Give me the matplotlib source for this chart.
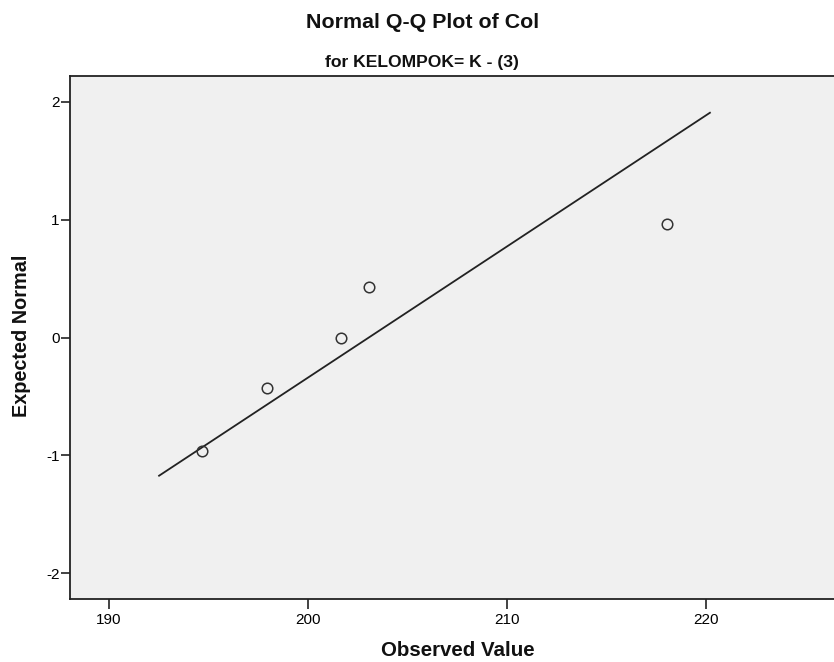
import numpy as np
import matplotlib
matplotlib.use("Agg")
import matplotlib.pyplot as plt

# Data
observed = [194.66, 197.92, 201.64, 203.07, 218.03]
expected_normal = [-0.967, -0.431, 0.0, 0.431, 0.967]
line_x_range = [192.48, 220.25]
x_ticks = [190, 200, 210, 220]
y_ticks = [-2, -1, 0, 1, 2]

title = "Normal Q-Q Plot of Col"
subtitle = "for KELOMPOK= K - (3)"
xlabel = "Observed Value"
ylabel = "Expected Normal"

FONT = ["Liberation Sans", "DejaVu Sans"]
plt.rcParams["font.family"] = FONT

W, H = 834, 662
fig = plt.figure(figsize=(W / 100, H / 100), dpi=100)
fig.patch.set_facecolor("white")

left, right, top, bottom = 70, 834, 76, 599
ax = fig.add_axes([left / W, 1 - bottom / H, (right - left) / W, (bottom - top) / H])
ax.set_facecolor("#f0f0f0")

# fitted normal reference line
obs = np.array(observed)
mu, sd = obs.mean(), obs.std(ddof=1)
lx = np.array(line_x_range)
ax.plot(lx, (lx - mu) / sd, color="#222222", lw=1.3, solid_capstyle="butt", zorder=2)

ax.plot(observed, expected_normal, linestyle="none", marker="o", markersize=7.6,
        markerfacecolor="none", markeredgecolor="#333333", markeredgewidth=1.1, zorder=3)

ax.set_xlim(188.04, 226.45)
ax.set_ylim(-2.22, 2.22)
ax.set_xticks(x_ticks)
ax.set_yticks(y_ticks)
ax.set_xticklabels([str(t) for t in x_ticks])
ax.set_yticklabels([str(t) for t in y_ticks])

for s in ["left", "bottom", "top"]:
    ax.spines[s].set_color("#222222")
    ax.spines[s].set_linewidth(1.3)
ax.spines["right"].set_visible(False)

ax.tick_params(axis="x", direction="out", length=7, width=1.2, color="#222222",
               labelsize=11, pad=3, labelcolor="#000000")
ax.tick_params(axis="y", direction="out", length=6.5, width=1.2, color="#222222",
               labelsize=11, pad=1, labelcolor="#000000")

fig.text(457.5 / W, 1 - 650 / H, xlabel, ha="center", va="center",
         fontsize=14.8, fontweight="bold", color="#111111")
fig.text(22 / W, 1 - 336 / H, ylabel, ha="center", va="center", rotation=90,
         fontsize=14.3, fontweight="bold", color="#111111")

fig.text(423 / W, 1 - 23 / H, title, ha="center", va="center",
         fontsize=15.4, fontweight="bold", color="#111111")
fig.text(422 / W, 1 - 63 / H, subtitle, ha="center", va="center",
         fontsize=12.6, fontweight="bold", color="#111111")

fig.savefig("out.png", dpi=100)
